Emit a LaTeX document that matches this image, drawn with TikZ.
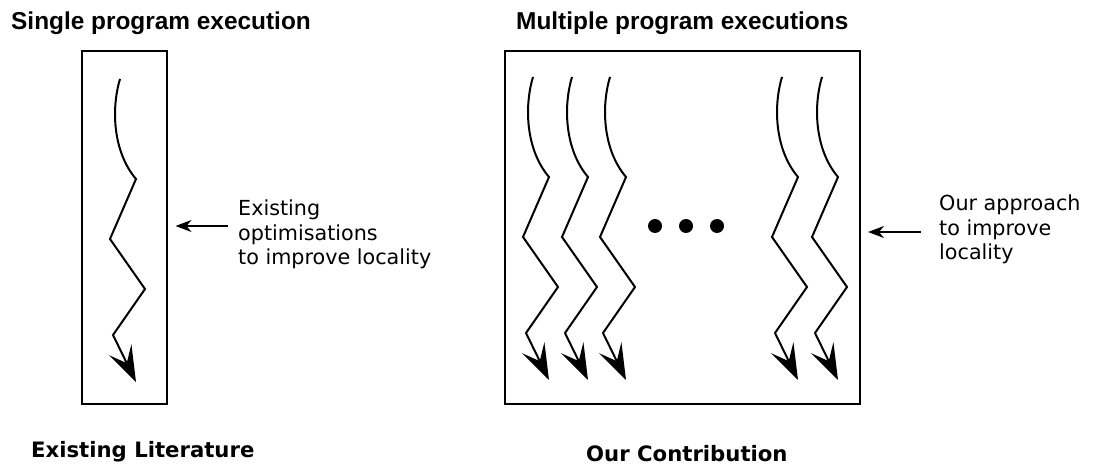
\documentclass[tikz,border=0pt]{standalone}
\usepackage{fontspec}
\setmainfont{DejaVu Sans}
\newfontfamily\headfont{Liberation Sans}
\usetikzlibrary{arrows.meta}

\tikzset{
  frame/.style={draw=black, line width=2pt, inner sep=0pt, fill=none},
  threadline/.style={line width=2pt, line join=miter,
    -{Stealth[length=36pt,width=25pt,inset=15pt]}},
  pointer/.style={line width=1.5pt, -{Stealth[length=16pt,width=12pt,inset=5pt]}},
  heading/.style={anchor=base west, inner sep=0pt, font=\headfont\bfseries\fontsize{24.4}{29}\selectfont},
  caption/.style={anchor=base west, inner sep=0pt, font=\bfseries\fontsize{21.2}{25}\selectfont},
  note/.style={anchor=base west, inner sep=0pt, align=left, font=\fontsize{20.7}{24.7}\selectfont},
  dot/.style={circle, fill=black, inner sep=0pt, minimum size=14pt},
  thread/.pic={
    \draw[threadline] (0,0) .. controls (-9,30) and (-7,73) .. (16,100)
      -- (-10,160) -- (25,210) -- (-7,256) -- (16,303);
  }
}

\begin{document}
\begin{tikzpicture}[x=1pt,y=-1pt]
  \useasboundingbox (0,0) rectangle (1095,470);

  % headings
  \node[heading] (hsingle) at (11,30) {Single program execution};
  \node[heading] (hmulti) at (516,30) {Multiple program executions};

  % frames
  \node[frame, minimum width=84.5pt, minimum height=353pt] (single) at (124.25,227.5) {};
  \node[frame, minimum width=355pt, minimum height=353pt] (multi) at (682.5,227.5) {};

  % one execution thread
  \pic (s1) at (120,79) {thread};

  % several execution threads
  \pic (m1) at (533,77) {thread};
  \pic (m2) at (572,77) {thread};
  \pic (m3) at (610,77) {thread};
  \pic (m4) at (782,77) {thread};
  \pic (m5) at (822,77) {thread};

  % ellipsis
  \node[dot] (d1) at (655,226) {};
  \node[dot] (d2) at (686,226) {};
  \node[dot] (d3) at (717,226) {};

  % side notes with pointers (base anchor sits on the last line)
  \node[note] (nexist) at (238,265) {Existing\\optimisations\\to improve locality};
  \coordinate (ltail) at (228,226);
  \draw[pointer, shorten >=8pt] (ltail) -- (ltail -| single.east);

  \node[note] (nours) at (939,260) {Our approach\\to improve\\locality};
  \coordinate (rtail) at (921,232);
  \draw[pointer, shorten >=7pt] (rtail) -- (rtail -| multi.east);

  % captions
  \node[caption] (cexist) at (31,457) {Existing Literature};
  \node[caption] (cours) at (586,461) {Our Contribution};
\end{tikzpicture}
\end{document}
